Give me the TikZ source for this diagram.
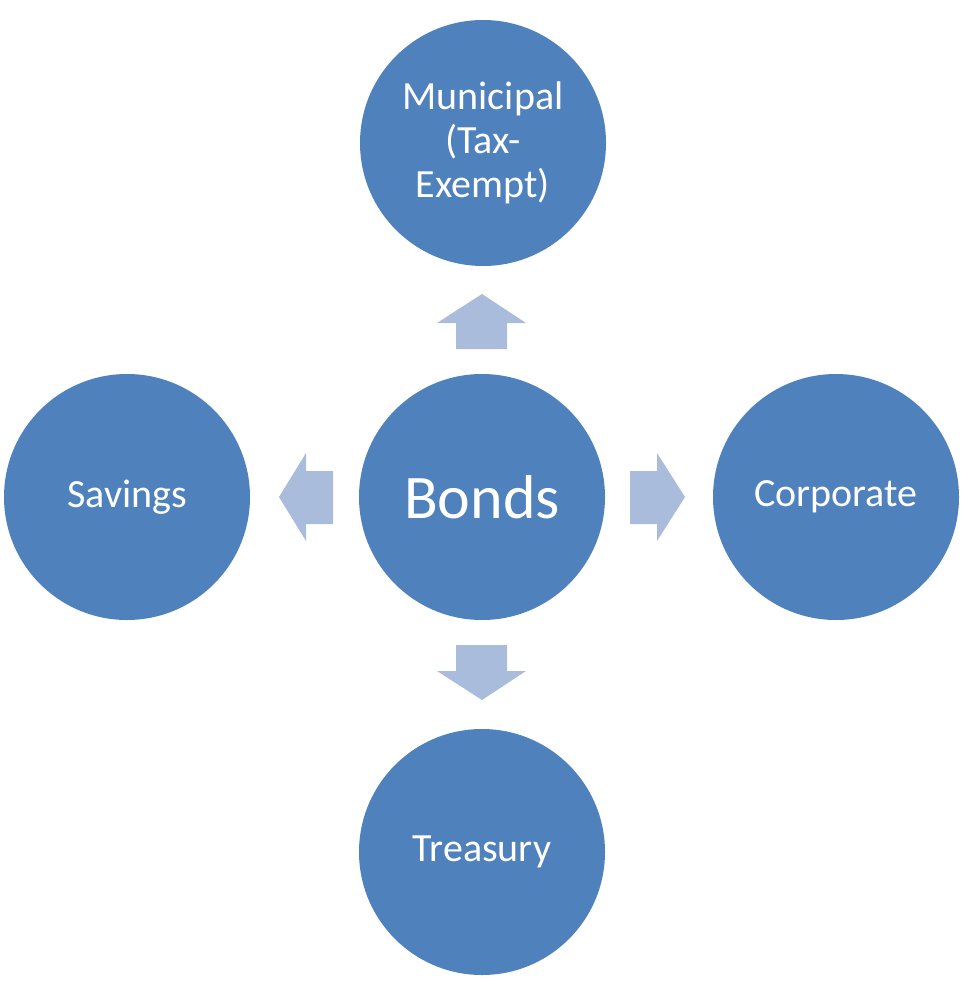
\documentclass[tikz,border=0pt]{standalone}
\usepackage{fontspec}
\setmainfont{Carlito}
\definecolor{circblue}{HTML}{4F81BD}
\definecolor{arrblue}{HTML}{A9BCDC}
\begin{document}
\begin{tikzpicture}[x=1pt,y=-1pt,
  bubble/.style={circle,fill=circblue,draw=none,minimum size=246pt,inner sep=0pt,text=white,align=center,font=\fontsize{40}{44}\selectfont},
  blockarrow/.style={fill=arrblue,draw=none}]
\useasboundingbox (0,0) rectangle (961,992);
\node[bubble] (top) at (483,143) {Municipal\\(Tax-\\Exempt)};
\node[bubble,font=\fontsize{62}{70}\selectfont] (center) at (482,497) {Bonds};
\node[bubble] (left) at (127,497) {Savings};
\node[bubble] (right) at (836,497) {Corporate};
\node[bubble] (bottom) at (482,852) {Treasury};
% up arrow
\fill[blockarrow] (456,349) -- (456,323) -- (437,323) -- (482,294) -- (526,323) -- (507,323) -- (507,349) -- cycle;
% left arrow
\fill[blockarrow] (333,471) -- (306,471) -- (306,453) -- (279,497) -- (306,541) -- (306,524) -- (333,524) -- cycle;
% right arrow
\fill[blockarrow] (630,471) -- (657,471) -- (657,453) -- (685,497) -- (657,541) -- (657,524) -- (630,524) -- cycle;
% down arrow
\fill[blockarrow] (456,645) -- (456,671) -- (437,671) -- (482,700) -- (526,671) -- (507,671) -- (507,645) -- cycle;
\end{tikzpicture}
\end{document}
